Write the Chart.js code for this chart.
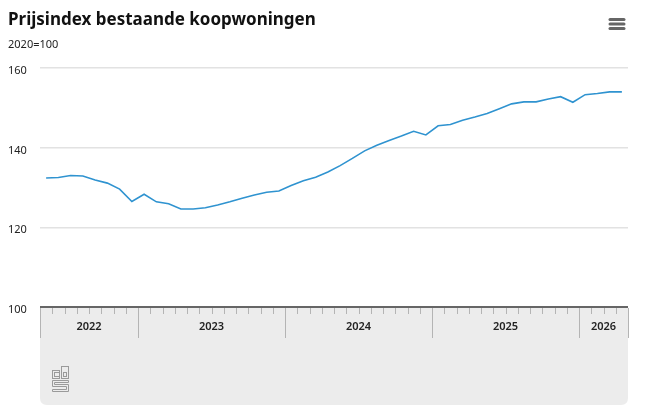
<!DOCTYPE html>
<html lang="nl">
<head>
  <meta charset="UTF-8">
  <title>Prijsindex bestaande koopwoningen</title>
  <script src="https://cdn.jsdelivr.net/npm/chart.js"></script>
  <style>
    html, body {
      margin: 0;
      padding: 0;
      background: #fff;
    }
    .wrap {
      width: 650px;
      height: 413px;
      position: relative;
    }
  </style>
</head>
<body>
  <div class="wrap">
    <canvas id="myChart" width="650" height="413"></canvas>
  </div>

  <script>
    // chart data
    const title = 'Prijsindex bestaande koopwoningen';
    const unit = '2020=100';

    const months = [
      '2022 mei', '2022 juni', '2022 juli', '2022 augustus', '2022 september', '2022 oktober', '2022 november', '2022 december',
      '2023 januari', '2023 februari', '2023 maart', '2023 april', '2023 mei', '2023 juni', '2023 juli', '2023 augustus', '2023 september', '2023 oktober', '2023 november', '2023 december',
      '2024 januari', '2024 februari', '2024 maart', '2024 april', '2024 mei', '2024 juni', '2024 juli', '2024 augustus', '2024 september', '2024 oktober', '2024 november', '2024 december',
      '2025 januari', '2025 februari', '2025 maart', '2025 april', '2025 mei', '2025 juni', '2025 juli', '2025 augustus', '2025 september', '2025 oktober', '2025 november', '2025 december',
      '2026 januari', '2026 februari', '2026 maart', '2026 april'
    ];

    const prijsindex = [
      132.4, 132.5, 133.0, 132.9, 131.9, 131.1, 129.6, 126.5,
      128.3, 126.4, 125.9, 124.6, 124.6, 124.9, 125.6, 126.4, 127.3, 128.1, 128.8, 129.1,
      130.5, 131.7, 132.6, 133.9, 135.5, 137.3, 139.2, 140.6, 141.8, 142.9, 144.1, 143.2,
      145.5, 145.8, 146.9, 147.7, 148.6, 149.8, 151.0, 151.5, 151.5, 152.2, 152.8, 151.4,
      153.3, 153.6, 154.0, 154.0
    ];

    const yTicks = [100, 120, 140, 160];

    // header: title, unit and menu icon
    const headerPlugin = {
      id: 'header',
      afterDraw(chart) {
        const ctx = chart.ctx;
        ctx.save();
        ctx.fillStyle = '#111';
        ctx.textBaseline = 'alphabetic';
        ctx.textAlign = 'left';
        ctx.font = 'bold 17px "Noto Sans"';
        ctx.fillText(title, 8, 25);
        ctx.font = '11px "Noto Sans"';
        ctx.fillStyle = '#222';
        ctx.fillText(unit, 8, 48);

        // menu icon
        ctx.strokeStyle = '#666';
        ctx.lineWidth = 3;
        ctx.lineCap = 'round';
        [19.5, 24, 28.5].forEach(y => {
          ctx.beginPath();
          ctx.moveTo(610, y);
          ctx.lineTo(624, y);
          ctx.stroke();
        });
        ctx.restore();
      }
    };

    // grey band under the x axis with month ticks and year labels
    const timeAxisPlugin = {
      id: 'timeAxis',
      beforeDraw(chart) {
        const ctx = chart.ctx;
        const area = chart.chartArea;
        const top = area.bottom;
        const bottom = 405;
        const r = 7;

        ctx.save();
        ctx.fillStyle = '#ececec';
        ctx.beginPath();
        ctx.moveTo(area.left, top);
        ctx.lineTo(area.right, top);
        ctx.lineTo(area.right, bottom - r);
        ctx.quadraticCurveTo(area.right, bottom, area.right - r, bottom);
        ctx.lineTo(area.left + r, bottom);
        ctx.quadraticCurveTo(area.left, bottom, area.left, bottom - r);
        ctx.closePath();
        ctx.fill();
        ctx.restore();
      },
      afterDraw(chart) {
        const ctx = chart.ctx;
        const area = chart.chartArea;
        const x = chart.scales.x;
        const top = area.bottom;
        const half = (x.getPixelForValue(1) - x.getPixelForValue(0)) / 2;

        ctx.save();
        ctx.strokeStyle = '#b4b4b4';
        ctx.lineWidth = 1;

        // year segments
        const segs = [];
        months.forEach((m, i) => {
          const yr = m.slice(0, 4);
          if (!segs.length || segs[segs.length - 1].year !== yr) {
            segs.push({ year: yr, from: i, to: i });
          } else {
            segs[segs.length - 1].to = i;
          }
        });

        // month boundaries
        for (let i = 0; i <= months.length; i++) {
          const px = Math.round(x.getPixelForValue(i) - half) + 0.5;
          const isYear = i === 0 || i === months.length || segs.some(s => s.from === i);
          ctx.beginPath();
          ctx.moveTo(px, top + 1);
          ctx.lineTo(px, top + (isYear ? 31 : 7));
          ctx.stroke();
        }

        // year labels
        ctx.fillStyle = '#222';
        ctx.font = '600 11px "Noto Sans"';
        ctx.textAlign = 'center';
        ctx.textBaseline = 'middle';
        segs.forEach(s => {
          const a = x.getPixelForValue(s.from) - half;
          const b = x.getPixelForValue(s.to) + half;
          ctx.fillText(s.year, (a + b) / 2, top + 20);
        });

        // axis line
        ctx.strokeStyle = '#666';
        ctx.lineWidth = 2;
        ctx.beginPath();
        ctx.moveTo(area.left, top);
        ctx.lineTo(area.right, top);
        ctx.stroke();

        // cbs logo
        ctx.strokeStyle = '#9a9a9a';
        ctx.lineWidth = 1;
        ctx.strokeRect(52.5, 370.5, 7, 8);
        ctx.strokeRect(54.5, 372.5, 5, 4);
        ctx.strokeRect(61.5, 366.5, 7, 12);
        ctx.strokeRect(63.5, 372.5, 3, 4);
        ctx.beginPath();
        ctx.moveTo(68.5, 380.5);
        ctx.lineTo(52.5, 380.5);
        ctx.lineTo(52.5, 386.5);
        ctx.lineTo(66.5, 386.5);
        ctx.lineTo(66.5, 389.5);
        ctx.lineTo(52.5, 389.5);
        ctx.lineTo(52.5, 391.5);
        ctx.lineTo(68.5, 391.5);
        ctx.lineTo(68.5, 384.5);
        ctx.lineTo(54.5, 384.5);
        ctx.lineTo(54.5, 382.5);
        ctx.lineTo(68.5, 382.5);
        ctx.closePath();
        ctx.stroke();
        ctx.restore();
      }
    };

    const data = {
      labels: months,
      datasets: [{
        label: 'Prijsindex bestaande koopwoningen',
        data: prijsindex,
        borderColor: '#2f93d0',
        borderWidth: 1.6,
        pointRadius: 0,
        pointHoverRadius: 0,
        tension: 0,
        fill: false
      }]
    };

    const options = {
      responsive: false,
      animation: false,
      layout: {
        padding: { top: 68, left: 8, right: 22, bottom: 8 }
      },
      plugins: {
        legend: { display: false },
        tooltip: { enabled: false }
      },
      scales: {
        x: {
          type: 'category',
          offset: true,
          border: { display: false },
          grid: { display: false },
          ticks: { display: false },
          afterFit(scale) {
            scale.height = 98;
          }
        },
        y: {
          min: 100,
          max: 160,
          border: { display: false },
          afterBuildTicks(scale) {
            scale.ticks = yTicks.map(v => ({ value: v }));
          },
          afterFit(scale) {
            scale.width = 32;
          },
          grid: {
            color: ctx => ctx.tick && ctx.tick.value === 100 ? 'rgba(0,0,0,0)' : '#e2e2e2',
            lineWidth: 1.5,
            drawTicks: false
          },
          ticks: {
            crossAlign: 'far',
            padding: 0,
            labelOffset: 3,
            color: '#222',
            font: { family: 'Noto Sans', size: 11 },
            callback: v => v
          }
        }
      }
    };

    const ctx = document.getElementById('myChart').getContext('2d');
    const myChart = new Chart(ctx, {
      type: 'line',
      data: data,
      options: options,
      plugins: [timeAxisPlugin, headerPlugin]
    });
  </script>
</body>
</html>
